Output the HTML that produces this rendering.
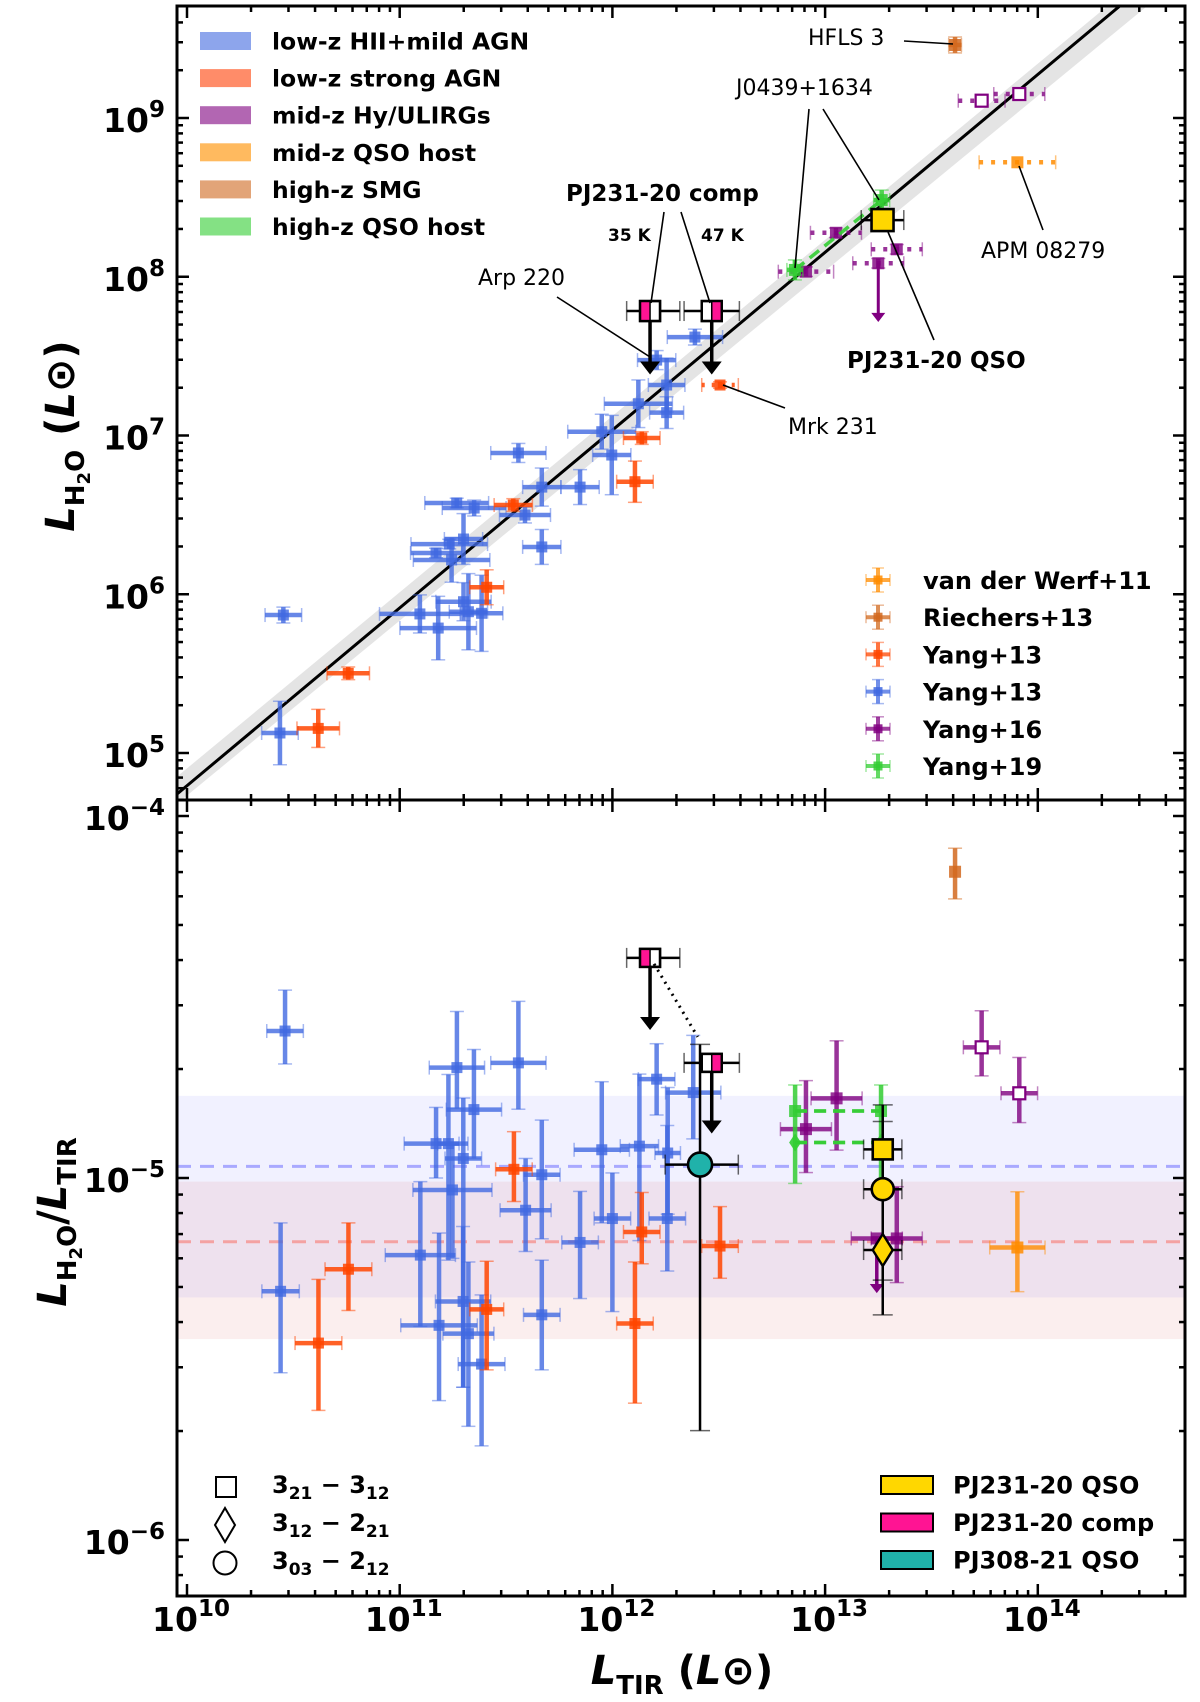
<!DOCTYPE html>
<html><head><meta charset="utf-8"><style>
html,body{margin:0;padding:0;background:#fff;}
svg{display:block;font-family:"DejaVu Sans","Liberation Sans",sans-serif;}
</style></head><body>
<svg id="fig" width="1200" height="1702" viewBox="0 0 1200 1702" xmlns="http://www.w3.org/2000/svg">
<g id="bands"></g>
<g id="marks"></g>
<g id="axes"></g>
<g id="texts">
  <text x="478" y="285" font-size="22">Arp 220</text>
  <text x="788" y="434" font-size="22">Mrk 231</text>
  <text x="808" y="45" font-size="22">HFLS 3</text>
  <text x="736" y="95" font-size="22">J0439+1634</text>
  <text x="981" y="258" font-size="22">APM 08279</text>
  <text x="847" y="368" font-size="23" font-weight="bold">PJ231-20 QSO</text>
  <text x="566" y="201" font-size="23" font-weight="bold">PJ231-20 comp</text>
  <text x="608" y="241" font-size="17" font-weight="bold">35 K</text>
  <text x="701" y="241" font-size="17" font-weight="bold">47 K</text>
  <g stroke="#000" stroke-width="1.6">
    <line x1="557" y1="297" x2="650" y2="357"/>
    <line x1="809" y1="109" x2="795" y2="268"/>
    <line x1="823" y1="109" x2="879" y2="200"/>
    <line x1="904" y1="41" x2="953" y2="44"/>
    <line x1="1019" y1="166" x2="1043" y2="230"/>
    <line x1="888" y1="232" x2="934" y2="340"/>
    <line x1="664" y1="212" x2="651" y2="303"/>
    <line x1="681" y1="212" x2="710" y2="303"/>
    <line x1="723" y1="385" x2="785" y2="408"/>
  </g>
  <text transform="translate(74,436) rotate(-90)" text-anchor="middle" font-size="40" font-weight="bold"><tspan font-style="italic">L</tspan><tspan font-size="26" dy="10">H</tspan><tspan font-size="18" dy="6">2</tspan><tspan font-size="26" dy="-6">O</tspan><tspan dy="-10"> (</tspan><tspan font-style="italic">L</tspan><tspan>⊙)</tspan></text>
  <text transform="translate(66,1222) rotate(-90)" text-anchor="middle" font-size="40" font-weight="bold"><tspan font-style="italic">L</tspan><tspan font-size="26" dy="10">H</tspan><tspan font-size="18" dy="6">2</tspan><tspan font-size="26" dy="-6">O</tspan><tspan dy="-10">/</tspan><tspan font-style="italic">L</tspan><tspan font-size="26" dy="10">TIR</tspan></text>
  <text x="682" y="1684" text-anchor="middle" font-size="40" font-weight="bold"><tspan font-style="italic">L</tspan><tspan font-size="26" dy="10">TIR</tspan><tspan dy="-10"> (</tspan><tspan font-style="italic">L</tspan><tspan>⊙)</tspan></text>
</g>
<g id="legends"></g>
</svg>
<script>
// ===== data (log10 values) =====
const fitSlope = 1.12;
const fitPivotX = 12;
const fitPivotY = 7.034;
const fitBandHi = 0.08;
const fitBandLo = 0.09;

const topHII_tir = [10.453,10.437,12.388,12.208,12.255,12.122,12.255,11.950,11.997,11.558,11.668,11.848,11.268,11.35,11.589,11.30,11.233,11.171,11.244,11.668,11.30,11.095,11.181,11.323,11.385];
const topHII_h2o = [5.869,5.126,7.62,7.475,7.318,7.20,7.144,7.024,6.877,6.89,6.675,6.675,6.575,6.543,6.499,6.348,6.316,6.26,6.216,6.298,5.953,5.876,5.787,5.89,5.88];
const topHII_xerr = [0.086,0.086,0.13,0.09,0.086,0.16,0.08,0.16,0.09,0.13,0.09,0.09,0.15,0.15,0.12,0.09,0.18,0.12,0.18,0.09,0.13,0.19,0.18,0.09,0.1];
const topHII_yerr = [0.05,0.2,0.05,0.06,0.17,0.15,0.1,0.11,0.25,0.06,0.12,0.11,0.03,0.05,0.05,0.16,0.03,0.03,0.14,0.11,0.12,0.12,0.2,0.24,0.24];
const topAGN_tir = [12.506,12.138,12.106,11.534,11.409,10.758,10.617];
const topAGN_h2o = [7.318,6.984,6.709,6.562,6.044,5.502,5.155];
const topAGN_xerr = [0.086,0.086,0.086,0.09,0.08,0.1,0.1];
const topAGN_yerr = [0.02,0.04,0.13,0.04,0.11,0.04,0.12];
const topMid_tir = [12.91,13.051,13.337,13.25];
const topMid_h2o = [8.032,8.277,8.173,8.085];
const topMid_xerr = [0.13,0.12,0.12,0.12];
const topMid_limit = [0,0,0,1];
const topMidOpen_tir = [13.736,13.913];
const topMidOpen_h2o = [9.109,9.151];
const topMidOpen_xerr = [0.11,0.12];
const topAPM = [13.904,8.721,0.18];
const topSMG = [13.611,9.46,0.05];
const topGreen_tir = [12.858,13.266];
const topGreen_h2o = [8.043,8.483];
const topPJ231 = [13.27,8.357,0.1,0.04];
const topComp_tir = [12.177,12.467];
const topComp_h2o = [7.784,7.784];
const topComp_xlo = [0.11,0.13];
const topComp_xhi = [0.14,0.13];

const botHII_tir = [10.461,10.440,11.269,11.349,11.558,11.171,11.229,11.299,11.248,11.097,11.185,11.298,11.323,11.385,11.592,11.668,11.668,11.950,12.000,11.848,12.127,12.208,12.380,12.258,12.260];
const botHII_r = [-4.594,-5.313,-4.695,-4.811,-4.682,-4.905,-4.905,-4.946,-5.033,-5.213,-5.407,-5.341,-5.430,-5.514,-5.089,-4.991,-5.378,-4.922,-5.112,-5.178,-4.912,-4.727,-4.764,-5.112,-4.931];
const botHII_yhi = [-4.481,-5.124,-4.540,-4.645,-4.512,-4.805,-4.714,-4.779,-4.907,-5.010,-5.152,-5.134,-5.232,-5.323,-4.946,-4.840,-5.227,-4.734,-4.986,-5.037,-4.713,-4.629,-4.606,-4.855,-4.75];
const botHII_ylo = [-4.685,-5.538,-4.808,-4.946,-4.810,-5.000,-5.227,-5.578,-5.222,-5.410,-5.615,-5.578,-5.686,-5.740,-5.203,-5.168,-5.530,-5.124,-5.369,-5.333,-5.173,-4.826,-4.892,-5.257,-5.10];
const botHII_xerr = [0.086,0.088,0.13,0.13,0.13,0.15,0.05,0.086,0.186,0.165,0.18,0.13,0.12,0.11,0.12,0.086,0.086,0.13,0.086,0.086,0.09,0.086,0.13,0.086,0.06];
const botAGN_tir = [10.759,10.618,11.537,11.409,12.138,12.106,12.506];
const botAGN_r = [-5.252,-5.456,-4.976,-5.363,-5.149,-5.402,-5.188];
const botAGN_yhi = [-5.124,-5.280,-4.872,-5.230,-5.040,-5.232,-5.079];
const botAGN_ylo = [-5.366,-5.642,-5.065,-5.530,-5.237,-5.622,-5.277];
const botAGN_xerr = [0.11,0.11,0.086,0.08,0.086,0.086,0.086];
const botMid_tir = [12.910,13.054,13.337,13.243];
const botMid_r = [-4.865,-4.780,-5.167,-5.167];
const botMid_yhi = [-4.731,-4.621,-5.024,-5.167];
const botMid_ylo = [-4.985,-4.923,-5.289,-5.318];
const botMid_limit = [0,0,0,1];
const botMidOpen_tir = [13.736,13.913];
const botMidOpen_r = [-4.639,-4.766];
const botMidOpen_yhi = [-4.538,-4.667];
const botMidOpen_ylo = [-4.718,-4.847];
const botSMG = [13.611,-4.154,-4.089,-4.229];
const botAPM = [13.904,-5.192,-5.038,-5.314,0.13];
const botGreen_tir = [12.859,13.263];
const botGreen_sq = [-4.815,-4.815];
const botGreen_di = [-4.902,-4.902];
const botPJ231_tir = 13.271;
const botPJ231_r = [-4.921,-5.031,-5.199];
const botPJ231_yhi = [-4.798,-4.844,-5.05];
const botPJ231_ylo = [-5.03,-5.282,-5.378];
const botComp_tir = [12.177,12.467];
const botComp_r = [-4.392,-4.682];
const botComp_arrow = [-4.591,-4.877];
const botTeal = [12.412,-4.963,-4.631,-5.698,0.164,0.18];
const bandBlue = [-4.773,-5.330,-4.968];
const bandRed = [-5.010,-5.445,-5.176];

// ===== axes =====
const PL=177, PR=1185, TT=6, TB=800, BB=1596;
const X = lx => 187 + (lx-10)*212.7;
const YT = ly => 118 + (9-ly)*158.75;
const YB = lr => 816 + (-4-lr)*362;
const NS="http://www.w3.org/2000/svg";
function mk(tag, attrs, parent){const e=document.createElementNS(NS,tag);for(const k in attrs)e.setAttribute(k,attrs[k]);parent.appendChild(e);return e;}
const marks=document.getElementById('marks');
const axes=document.getElementById('axes');
const bands=document.getElementById('bands');
const legends=document.getElementById('legends');

// clip paths
const defs=mk('defs',{},document.getElementById('fig'));
const cpT=mk('clipPath',{id:'cpT'},defs); mk('rect',{x:PL,y:TT,width:PR-PL,height:TB-TT},cpT);
const cpB=mk('clipPath',{id:'cpB'},defs); mk('rect',{x:PL,y:TB,width:PR-PL,height:BB-TB},cpB);
const gT=mk('g',{'clip-path':'url(#cpT)'},marks);


const gB=mk('g',{'clip-path':'url(#cpB)'},marks);



// bands bottom
function band(vals,color,op,dashc,name){
  const r=mk('rect',{x:PL,y:YB(vals[0]),width:PR-PL,height:YB(vals[1])-YB(vals[0]),fill:color,'fill-opacity':op},bands);
  
  
  const l=mk('line',{x1:PL,x2:PR,y1:YB(vals[2]),y2:YB(vals[2]),stroke:dashc,'stroke-width':3,'stroke-dasharray':'14 9'},bands);
  
  
}
band(bandBlue,'#0000ff',0.055,'#a9a9ff','band-low-z-hii');
band(bandRed,'#e07070',0.12,'#f4a2a2','band-low-z-agn');

// fit line top
(function(){
  const x0=9.9,x1=14.8;
  const f=(x,d)=>fitPivotY+fitSlope*(x-fitPivotX)+d;
  const pts=[[x0,f(x0,fitBandHi+0.03)],[x1,f(x1,fitBandHi-0.02)],[x1,f(x1,-fitBandLo-0.06)],[x0,f(x0,-fitBandLo+0.03)]];
  const p=mk('polygon',{points:pts.map(q=>X(q[0])+','+YT(q[1])).join(' '),fill:'#d9d9d9','fill-opacity':0.7},gT);
  
  
  const l=mk('line',{x1:X(x0),y1:YT(f(x0,0)),x2:X(x1),y2:YT(f(x1,0)),stroke:'#000','stroke-width':3},gT);
  
  
})();

function ebar(g,cx,cy,x1,x2,y1,y2,color,o){
  o=o||{};
  const sw=o.sw||4.5, op=o.op==null?0.85:o.op, dash=o.dash||null, cap=o.cap||7;
  const a={stroke:color,'stroke-width':sw,'stroke-opacity':op};
  if(x1!=null){const l=mk('line',Object.assign({x1:x1,x2:x2,y1:cy,y2:cy},a),g);if(dash)l.setAttribute('stroke-dasharray',dash);
    mk('line',{x1:x1,x2:x1,y1:cy-cap,y2:cy+cap,stroke:color,'stroke-width':1.5,'stroke-opacity':op*0.6},g);
    mk('line',{x1:x2,x2:x2,y1:cy-cap,y2:cy+cap,stroke:color,'stroke-width':1.5,'stroke-opacity':op*0.6},g);}
  if(y1!=null){mk('line',Object.assign({x1:cx,x2:cx,y1:y1,y2:y2},a),g);
    mk('line',{x1:cx-cap,x2:cx+cap,y1:y1,y2:y1,stroke:color,'stroke-width':1.5,'stroke-opacity':op*0.6},g);
    mk('line',{x1:cx-cap,x2:cx+cap,y1:y2,y2:y2,stroke:color,'stroke-width':1.5,'stroke-opacity':op*0.6},g);}
}
function sq(g,cx,cy,s,fill,op,stroke){return mk('rect',{x:cx-s/2,y:cy-s/2,width:s,height:s,fill:fill,'fill-opacity':op,stroke:stroke||'none','stroke-width':stroke?2.2:0},g);}
function arrowDown(g,x,y1,y2,color,w,hw){
  mk('line',{x1:x,x2:x,y1:y1,y2:y2-hw*1.2,stroke:color,'stroke-width':w},g);
  mk('polygon',{points:`${x-hw},${y2-hw*1.3} ${x+hw},${y2-hw*1.3} ${x},${y2}`,fill:color},g);
}

const BLUE='#4169e1',RED='#ff4500',PUR='#800080',ORG='#ff8c00',SMG='#d2691e',GRN='#32cd32';

// ---- top panel points ----
for(let i=0;i<topHII_tir.length;i++){
  const g=mk('g',{},gT);
  
  
  const cx=X(topHII_tir[i]),cy=YT(topHII_h2o[i]);
  ebar(g,cx,cy,X(topHII_tir[i]-topHII_xerr[i]),X(topHII_tir[i]+topHII_xerr[i]),YT(topHII_h2o[i]+topHII_yerr[i]),YT(topHII_h2o[i]-topHII_yerr[i]),BLUE,{op:0.8});
  sq(g,cx,cy,11,BLUE,0.8);
}
for(let i=0;i<topAGN_tir.length;i++){
  const g=mk('g',{},gT);
  
  
  const cx=X(topAGN_tir[i]),cy=YT(topAGN_h2o[i]);
  ebar(g,cx,cy,X(topAGN_tir[i]-topAGN_xerr[i]),X(topAGN_tir[i]+topAGN_xerr[i]),YT(topAGN_h2o[i]+topAGN_yerr[i]),YT(topAGN_h2o[i]-topAGN_yerr[i]),RED,{op:0.85,dash:i===0?'3 7':null});
  sq(g,cx,cy,11,RED,0.85);
}
for(let i=0;i<topMid_tir.length;i++){
  const g=mk('g',{},gT);
  
  
  const cx=X(topMid_tir[i]),cy=YT(topMid_h2o[i]);
  ebar(g,cx,cy,X(topMid_tir[i]-topMid_xerr[i]),X(topMid_tir[i]+topMid_xerr[i]),YT(topMid_h2o[i]+0.03),YT(topMid_h2o[i]-0.03),PUR,{op:0.8,dash:'4 8'});
  sq(g,cx,cy,12,PUR,0.8);
  if(topMid_limit[i]) arrowDown(g,cx,cy,YT(topMid_h2o[i]-0.37),PUR,3,7);
}
for(let i=0;i<topMidOpen_tir.length;i++){
  const g=mk('g',{},gT);
  
  
  const cx=X(topMidOpen_tir[i]),cy=YT(topMidOpen_h2o[i]);
  ebar(g,cx,cy,X(topMidOpen_tir[i]-topMidOpen_xerr[i]),X(topMidOpen_tir[i]+topMidOpen_xerr[i]),null,null,PUR,{op:0.8,dash:'4 8'});
  sq(g,cx,cy,12,'#fff',1,PUR);
}
(function(){
  let g=mk('g',{},gT);
  
  
  let cx=X(topAPM[0]),cy=YT(topAPM[1]);
  ebar(g,cx,cy,X(topAPM[0]-topAPM[2]),X(topAPM[0]+topAPM[2]),null,null,ORG,{dash:'4 8'});
  sq(g,cx,cy,12,ORG,0.85);
  g=mk('g',{},gT);
  
  
  cx=X(topSMG[0]);cy=YT(topSMG[1]);
  ebar(g,cx,cy,X(topSMG[0]-0.03),X(topSMG[0]+0.03),YT(topSMG[1]+topSMG[2]),YT(topSMG[1]-topSMG[2]),SMG,{});
  sq(g,cx,cy,12,SMG,0.85);
  g=mk('g',{},gT);
  
  
  mk('line',{x1:X(topGreen_tir[0]),y1:YT(topGreen_h2o[0]),x2:X(topGreen_tir[1]),y2:YT(topGreen_h2o[1]),stroke:GRN,'stroke-width':3.5,'stroke-dasharray':'12 7','stroke-opacity':0.9},g);
  for(let i=0;i<2;i++){const x=X(topGreen_tir[i]),y=YT(topGreen_h2o[i]);
    ebar(g,x,y,x-8,x+8,y-10,y+10,GRN,{});sq(g,x,y,12,GRN,0.85);}
  for(let i=0;i<2;i++){
    const gc=mk('g',{},gT);
    
    
    const x=X(topComp_tir[i]),y=YT(topComp_h2o[i]);
    ebar(gc,x,y,X(topComp_tir[i]-topComp_xlo[i]),X(topComp_tir[i]+topComp_xhi[i]),null,null,'#000',{sw:2.5,op:1,cap:10});
    arrowDown(gc,x,y,YT(topComp_h2o[i]-0.4),'#000',3.5,10);
    mk('rect',{x:x-10,y:y-10,width:20,height:20,fill:'#fff',stroke:'#000','stroke-width':2.4},gc);
    mk('rect',{x:i===0?x-10:x,y:y-10,width:10,height:20,fill:'#ff1493',stroke:'#000','stroke-width':1.5},gc);
    mk('rect',{x:x-10,y:y-10,width:20,height:20,fill:'none',stroke:'#000','stroke-width':2.4},gc);
  }
  g=mk('g',{},gT);
  
  
  cx=X(topPJ231[0]);cy=YT(topPJ231[1]);
  ebar(g,cx,cy,X(topPJ231[0]-topPJ231[2]),X(topPJ231[0]+topPJ231[2]),YT(topPJ231[1]+topPJ231[3]),YT(topPJ231[1]-topPJ231[3]),'#000',{sw:2.5,op:1,cap:10});
  mk('rect',{x:cx-11,y:cy-11,width:22,height:22,fill:'#ffd700',stroke:'#000','stroke-width':2.6},g);
})();

// ---- bottom panel points ----
for(let i=0;i<botHII_tir.length;i++){
  const g=mk('g',{},gB);
  
  
  const cx=X(botHII_tir[i]),cy=YB(botHII_r[i]);
  ebar(g,cx,cy,X(botHII_tir[i]-botHII_xerr[i]),X(botHII_tir[i]+botHII_xerr[i]),YB(botHII_yhi[i]),YB(botHII_ylo[i]),BLUE,{op:0.8});
  sq(g,cx,cy,11,BLUE,0.8);
}
for(let i=0;i<botAGN_tir.length;i++){
  const g=mk('g',{},gB);
  
  
  const cx=X(botAGN_tir[i]),cy=YB(botAGN_r[i]);
  ebar(g,cx,cy,X(botAGN_tir[i]-botAGN_xerr[i]),X(botAGN_tir[i]+botAGN_xerr[i]),YB(botAGN_yhi[i]),YB(botAGN_ylo[i]),RED,{op:0.85});
  sq(g,cx,cy,11,RED,0.85);
}
for(let i=0;i<botMid_tir.length;i++){
  const g=mk('g',{},gB);
  
  
  const cx=X(botMid_tir[i]),cy=YB(botMid_r[i]);
  ebar(g,cx,cy,X(botMid_tir[i]-0.12),X(botMid_tir[i]+0.12),botMid_limit[i]?null:YB(botMid_yhi[i]),botMid_limit[i]?null:YB(botMid_ylo[i]),PUR,{op:0.8});
  sq(g,cx,cy,12,PUR,0.8);
  if(botMid_limit[i]) arrowDown(g,cx,cy,YB(botMid_ylo[i]),PUR,3.5,7);
}
for(let i=0;i<botMidOpen_tir.length;i++){
  const g=mk('g',{},gB);
  
  
  const cx=X(botMidOpen_tir[i]),cy=YB(botMidOpen_r[i]);
  ebar(g,cx,cy,X(botMidOpen_tir[i]-0.086),X(botMidOpen_tir[i]+0.086),YB(botMidOpen_yhi[i]),YB(botMidOpen_ylo[i]),PUR,{op:0.8});
  sq(g,cx,cy,12,'#fff',1,PUR);
}
(function(){
  let g=mk('g',{},gB);
  
  
  let cx=X(botSMG[0]),cy=YB(botSMG[1]);
  ebar(g,cx,cy,null,null,YB(botSMG[2]),YB(botSMG[3]),SMG,{});
  sq(g,cx,cy,12,SMG,0.85);
  g=mk('g',{},gB);
  
  
  cx=X(botAPM[0]);cy=YB(botAPM[1]);
  ebar(g,cx,cy,X(botAPM[0]-botAPM[4]),X(botAPM[0]+botAPM[4]),YB(botAPM[2]),YB(botAPM[3]),ORG,{op:0.8});
  sq(g,cx,cy,12,ORG,0.85);
  g=mk('g',{},gB);
  
  
  for(let k=0;k<2;k++){
    mk('line',{x1:X(botGreen_tir[0]),x2:X(botGreen_tir[1]),y1:YB(botGreen_sq[0]),y2:YB(botGreen_sq[1]),stroke:GRN,'stroke-width':3.5,'stroke-dasharray':'12 7','stroke-opacity':0.85},g);
    mk('line',{x1:X(botGreen_tir[0]),x2:X(botGreen_tir[1]),y1:YB(botGreen_di[0]),y2:YB(botGreen_di[1]),stroke:GRN,'stroke-width':3.5,'stroke-dasharray':'12 7','stroke-opacity':0.85},g);
  }
  for(let i=0;i<2;i++){const x=X(botGreen_tir[i]);
    ebar(g,x,YB(botGreen_sq[i]),null,null,YB(botGreen_sq[i]+0.072),YB(botGreen_sq[i]-0.2),GRN,{});
    sq(g,x,YB(botGreen_sq[i]),12,GRN,0.85);
    const yd=YB(botGreen_di[i]);
    mk('polygon',{points:`${x},${yd-9} ${x+6},${yd} ${x},${yd+9} ${x-6},${yd}`,fill:GRN,'fill-opacity':0.9},g);}
  for(let i=0;i<2;i++){
    const gc=mk('g',{},gB);
    
    
    const x=X(botComp_tir[i]),y=YB(botComp_r[i]);
    ebar(gc,x,y,X(botComp_tir[i]-topComp_xlo[i]),X(botComp_tir[i]+topComp_xhi[i]),null,null,'#000',{sw:2.5,op:1,cap:10});
    arrowDown(gc,x,y,YB(botComp_arrow[i]),'#000',3.5,10);
    mk('rect',{x:x-10,y:y-9,width:20,height:18,fill:'#fff',stroke:'#000','stroke-width':2.4},gc);
    mk('rect',{x:i===0?x-10:x,y:y-9,width:10,height:18,fill:'#ff1493',stroke:'#000','stroke-width':1.5},gc);
    mk('rect',{x:x-10,y:y-9,width:20,height:18,fill:'none',stroke:'#000','stroke-width':2.4},gc);
  }
  const dl=mk('line',{x1:X(botComp_tir[0])+4,y1:YB(botComp_r[0])+6,x2:X(botComp_tir[1])-14,y2:YB(botComp_r[1])-26,stroke:'#000','stroke-width':3,'stroke-dasharray':'2 5'},gB);
  
  
  g=mk('g',{},gB);
  
  
  cx=X(botTeal[0]);cy=YB(botTeal[1]);
  ebar(g,cx,cy,X(botTeal[0]-botTeal[4]),X(botTeal[0]+botTeal[5]),YB(botTeal[2]),YB(botTeal[3]),'#000',{sw:2.5,op:1,cap:10});
  mk('circle',{cx:cx,cy:cy,r:12,fill:'#20b2aa',stroke:'#000','stroke-width':2.6},g);
  g=mk('g',{},gB);
  
  
  cx=X(botPJ231_tir);
  for(let i=0;i<3;i++){const y=YB(botPJ231_r[i]);
    ebar(g,cx,y,X(botPJ231_tir-0.09),X(botPJ231_tir+0.09),YB(botPJ231_yhi[i]),YB(botPJ231_ylo[i]),'#000',{sw:2.5,op:1,cap:10});}
  let y=YB(botPJ231_r[0]);
  mk('rect',{x:cx-10,y:y-10,width:20,height:20,fill:'#ffd700',stroke:'#000','stroke-width':2.6},g);
  y=YB(botPJ231_r[1]);
  mk('circle',{cx:cx,cy:y,r:11,fill:'#ffd700',stroke:'#000','stroke-width':2.6},g);
  y=YB(botPJ231_r[2]);
  mk('polygon',{points:`${cx},${y-16} ${cx+10},${y} ${cx},${y+16} ${cx-10},${y}`,fill:'#ffd700',stroke:'#000','stroke-width':2.4},g);
})();

// ---- axes frames & ticks ----
function frame(y0,y1,name){
  const r=mk('rect',{x:PL,y:y0,width:PR-PL,height:y1-y0,fill:'none',stroke:'#000','stroke-width':3},axes);
  
  
}
frame(TT,TB,'top-panel-frame');frame(TB,BB,'bottom-panel-frame');
function tick(x1,y1,x2,y2,w){mk('line',{x1:x1,y1:y1,x2:x2,y2:y2,stroke:'#000','stroke-width':w||2.5},axes);}
for(let d=9;d<=14;d++){for(let m=1;m<10;m++){
  const lx=d+Math.log10(m),x=X(lx); if(x<PL+2||x>PR-2)continue;
  const L=m===1?12:6;
  [[TT,1],[TB,-1],[TB,1],[BB,-1]].forEach(p=>tick(x,p[0],x,p[0]+p[1]*L));
}}
for(let d=4;d<=9;d++){for(let m=1;m<10;m++){
  const y=YT(d+Math.log10(m)); if(y<TT+2||y>TB-2)continue;
  const L=m===1?12:6; tick(PL,y,PL+L,y); tick(PR,y,PR-L,y);
}}
for(let d=-7;d<=-4;d++){for(let m=1;m<10;m++){
  const y=YB(d+Math.log10(m)); if(y<TB+2||y>BB-2)continue;
  const L=m===1?12:6; tick(PL,y,PL+L,y); tick(PR,y,PR-L,y);
}}
const xTicks=[10,11,12,13,14];
xTicks.forEach(e=>{const t=mk('text',{x:X(e)+4,y:1631,'text-anchor':'middle','font-size':33,'font-weight':'bold'},axes);
  
  
  t.innerHTML='10<tspan font-size="23" dy="-15">'+e+'</tspan>';});
const yTopTicks=[5,6,7,8,9];
yTopTicks.forEach(e=>{const t=mk('text',{x:165,y:YT(e)+14,'text-anchor':'end','font-size':33,'font-weight':'bold'},axes);
  
  
  t.innerHTML='10<tspan font-size="23" dy="-15">'+e+'</tspan>';});
const yBotTicks=[-4,-5,-6];
yBotTicks.forEach(e=>{const t=mk('text',{x:165,y:YB(e)+14,'text-anchor':'end','font-size':33,'font-weight':'bold'},axes);
  
  
  t.innerHTML='10<tspan font-size="23" dy="-15">−'+(-e)+'</tspan>';});

// ---- legends ----
const patchLabels=['low-z HII+mild AGN','low-z strong AGN','mid-z Hy/ULIRGs','mid-z QSO host','high-z SMG','high-z QSO host'];
const patchColors=['#8da5ec','#ff8c69','#b266b2','#ffba5f','#e2a478','#84e184'];
patchLabels.forEach((s,i)=>{const y=41+i*37.1;
  const g=mk('g',{},legends);
  
  
  mk('rect',{x:200,y:y-9,width:51,height:18,fill:patchColors[i]},g);
  const t=mk('text',{x:272,y:y+8.5,'font-size':23.5,'font-weight':'bold'},g);t.textContent=s;});
const refLabels=['van der Werf+11','Riechers+13','Yang+13','Yang+13','Yang+16','Yang+19'];
const refColors=[ORG,SMG,RED,BLUE,PUR,GRN];
refLabels.forEach((s,i)=>{const y=580+i*37.2;
  const g=mk('g',{},legends);
  
  
  ebar(g,878,y,866,890,y-12,y+12,refColors[i],{sw:4,op:0.75,cap:6});
  sq(g,878,y,9,refColors[i],0.85);
  const t=mk('text',{x:923,y:y+9,'font-size':24,'font-weight':'bold'},g);t.textContent=s;});
const lineLabels=[['3','21','3','12'],['3','12','2','21'],['3','03','2','12']];
const lineY=[1487,1525,1563];
lineLabels.forEach((s,i)=>{const y=lineY[i];
  const g=mk('g',{},legends);
  
  
  if(i===0)mk('rect',{x:216,y:y-10,width:20,height:20,fill:'none',stroke:'#000','stroke-width':2},g);
  if(i===1)mk('polygon',{points:`225,${y-17} 235,${y} 225,${y+17} 215,${y}`,fill:'none',stroke:'#000','stroke-width':2},g);
  if(i===2)mk('circle',{cx:225,cy:y,r:11.5,fill:'none',stroke:'#000','stroke-width':2},g);
  const t=mk('text',{x:272,y:y+6,'font-size':24,'font-weight':'bold'},g);
  t.innerHTML=s[0]+'<tspan font-size="17" dy="6">'+s[1]+'</tspan><tspan dy="-6"> − '+s[2]+'</tspan><tspan font-size="17" dy="6">'+s[3]+'</tspan>';});
const srcLabels=['PJ231-20 QSO','PJ231-20 comp','PJ308-21 QSO'];
const srcColors=['#ffd700','#ff1493','#20b2aa'];
srcLabels.forEach((s,i)=>{const y=1485+i*37.5;
  const g=mk('g',{},legends);
  
  
  mk('rect',{x:881,y:y-9,width:52,height:18,fill:srcColors[i],stroke:'#000','stroke-width':2},g);
  const t=mk('text',{x:953,y:y+8.5,'font-size':24,'font-weight':'bold'},g);t.textContent=s;});
</script>
</body></html>
